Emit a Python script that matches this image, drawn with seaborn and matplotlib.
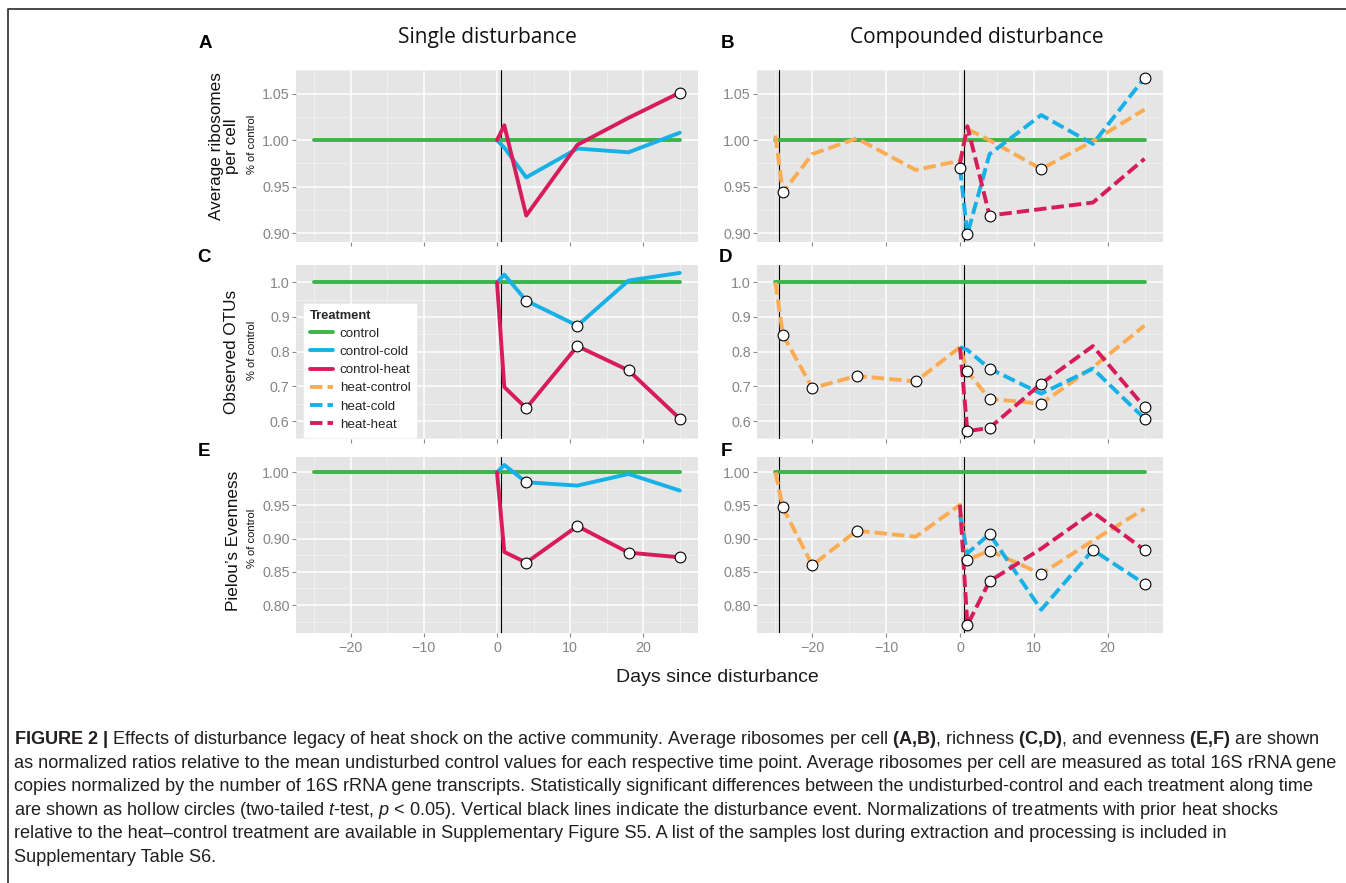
import pandas as pd
import seaborn as sns
import matplotlib.pyplot as plt
from matplotlib.lines import Line2D
from matplotlib.ticker import MultipleLocator, FormatStrFormatter

# sampling days
days_all = [-25, -24, -20, -14, -6, 0, 1, 4, 11, 18, 25]
days_post = [0, 1, 4, 11, 18, 25]

# undisturbed control (normalized to itself)
control = [1.0, 1.0, 1.0, 1.0, 1.0, 1.0, 1.0, 1.0, 1.0, 1.0, 1.0]

# average ribosomes per cell (A, B)
ribo_control_cold = [1.0, 0.992, 0.960, 0.991, 0.987, 1.008]
ribo_control_heat = [1.0, 1.016, 0.919, 0.995, 1.024, 1.051]
ribo_heat_control = [1.005, 0.944, 0.985, 1.002, 0.968, 0.978, 1.012, 1.0, 0.969, 0.999, 1.033]
ribo_heat_cold = [0.970, 0.899, 0.985, 1.027, 0.996, 1.067]
ribo_heat_heat = [0.975, 1.015, 0.919, 0.926, 0.933, 0.980]

# observed OTUs (C, D)
otu_control_cold = [1.0, 1.022, 0.947, 0.875, 1.005, 1.027]
otu_control_heat = [1.0, 0.698, 0.637, 0.816, 0.746, 0.607]
otu_heat_control = [1.0, 0.849, 0.695, 0.730, 0.714, 0.813, 0.743, 0.664, 0.650, 0.755, 0.875]
otu_heat_cold = [0.813, 0.805, 0.751, 0.679, 0.751, 0.607]
otu_heat_heat = [0.813, 0.571, 0.580, 0.708, 0.816, 0.640]

# Pielou's evenness (E, F)
even_control_cold = [1.0, 1.011, 0.985, 0.980, 0.9975, 0.9725]
even_control_heat = [1.0, 0.880, 0.864, 0.919, 0.879, 0.872]
even_heat_control = [1.0, 0.947, 0.860, 0.912, 0.903, 0.951, 0.868, 0.882, 0.847, 0.897, 0.945]
even_heat_cold = [0.935, 0.878, 0.907, 0.793, 0.883, 0.832]
even_heat_heat = [0.951, 0.770, 0.836, 0.885, 0.940, 0.883]

# significant differences vs control (hollow circles)
no_sig_all = [0, 0, 0, 0, 0, 0, 0, 0, 0, 0, 0]
ribo_control_cold_sig = [0, 0, 0, 0, 0, 0]
ribo_control_heat_sig = [0, 0, 0, 0, 0, 1]
ribo_heat_control_sig = [0, 1, 0, 0, 0, 0, 0, 0, 1, 0, 0]
ribo_heat_cold_sig = [1, 1, 0, 0, 0, 1]
ribo_heat_heat_sig = [0, 0, 1, 0, 0, 0]
otu_control_cold_sig = [0, 0, 1, 1, 0, 0]
otu_control_heat_sig = [0, 0, 1, 1, 1, 1]
otu_heat_control_sig = [0, 1, 1, 1, 1, 0, 1, 1, 1, 0, 0]
otu_heat_cold_sig = [0, 0, 1, 0, 0, 1]
otu_heat_heat_sig = [0, 1, 1, 1, 0, 1]
even_control_cold_sig = [0, 0, 1, 0, 0, 0]
even_control_heat_sig = [0, 0, 1, 1, 1, 1]
even_heat_control_sig = [0, 1, 1, 1, 0, 0, 1, 1, 1, 0, 0]
even_heat_cold_sig = [0, 0, 1, 0, 1, 1]
even_heat_heat_sig = [0, 1, 1, 0, 0, 1]

treatments = ["control", "control-cold", "control-heat", "heat-control", "heat-cold", "heat-heat"]
palette = {"control": "#3db449", "control-cold": "#17b1e8", "control-heat": "#d81c5b",
           "heat-control": "#fbac52", "heat-cold": "#17b1e8", "heat-heat": "#d81c5b"}
dash_map = {"control": "", "control-cold": "", "control-heat": "",
            "heat-control": (3.2, 1.3), "heat-cold": (3.2, 1.3), "heat-heat": (3.2, 1.3)}

caption_lines = [
    r"$\mathbf{FIGURE\ 2\ |}$ Effects of disturbance legacy of heat shock on the active community. Average ribosomes per cell $\mathbf{(A{,}B)}$, richness $\mathbf{(C{,}D)}$, and evenness $\mathbf{(E{,}F)}$ are shown",
    "as normalized ratios relative to the mean undisturbed control values for each respective time point. Average ribosomes per cell are measured as total 16S rRNA gene",
    "copies normalized by the number of 16S rRNA gene transcripts. Statistically significant differences between the undisturbed-control and each treatment along time",
    r"are shown as hollow circles (two-tailed $\mathit{t}$-test, $\mathit{p}$ < 0.05). Vertical black lines indicate the disturbance event. Normalizations of treatments with prior heat shocks",
    "relative to the heat\u2013control treatment are available in Supplementary Figure S5. A list of the samples lost during extraction and processing is included in",
    "Supplementary Table S6.",
]


def long_frame(series):
    rows = []
    for name, days, values, sig in series:
        for d, v, s in zip(days, values, sig):
            rows.append((d, v, name, s))
    return pd.DataFrame(rows, columns=["day", "value", "treatment", "sig"])


panels = [
    ("A", long_frame([("control", days_all, control, no_sig_all),
                      ("control-cold", days_post, ribo_control_cold, ribo_control_cold_sig),
                      ("control-heat", days_post, ribo_control_heat, ribo_control_heat_sig)])),
    ("B", long_frame([("control", days_all, control, no_sig_all),
                      ("heat-control", days_all, ribo_heat_control, ribo_heat_control_sig),
                      ("heat-cold", days_post, ribo_heat_cold, ribo_heat_cold_sig),
                      ("heat-heat", days_post, ribo_heat_heat, ribo_heat_heat_sig)])),
    ("C", long_frame([("control", days_all, control, no_sig_all),
                      ("control-cold", days_post, otu_control_cold, otu_control_cold_sig),
                      ("control-heat", days_post, otu_control_heat, otu_control_heat_sig)])),
    ("D", long_frame([("control", days_all, control, no_sig_all),
                      ("heat-control", days_all, otu_heat_control, otu_heat_control_sig),
                      ("heat-cold", days_post, otu_heat_cold, otu_heat_cold_sig),
                      ("heat-heat", days_post, otu_heat_heat, otu_heat_heat_sig)])),
    ("E", long_frame([("control", days_all, control, no_sig_all),
                      ("control-cold", days_post, even_control_cold, even_control_cold_sig),
                      ("control-heat", days_post, even_control_heat, even_control_heat_sig)])),
    ("F", long_frame([("control", days_all, control, no_sig_all),
                      ("heat-control", days_all, even_heat_control, even_heat_control_sig),
                      ("heat-cold", days_post, even_heat_cold, even_heat_cold_sig),
                      ("heat-heat", days_post, even_heat_heat, even_heat_heat_sig)])),
]

sns.set_theme(style="darkgrid", rc={"axes.facecolor": "#e5e5e5"})
plt.rcParams["font.family"] = ["Liberation Sans", "DejaVu Sans"]
plt.rcParams["mathtext.fontset"] = "custom"
plt.rcParams["mathtext.rm"] = "Liberation Sans"
plt.rcParams["mathtext.bf"] = "Liberation Sans:bold"
plt.rcParams["mathtext.it"] = "Liberation Sans:italic"

W, H = 1346, 883
fig = plt.figure(figsize=(W / 100, H / 100), dpi=100)


def px_axes(l, t, r, b):
    return fig.add_axes([l / W, 1 - b / H, (r - l) / W, (b - t) / H])


cols = [(296, 698), (757, 1163)]
rows_px = [(70, 242), (265, 439), (457, 633)]
row_ticks = [(0.05, "%.2f"), (0.1, "%.1f"), (0.05, "%.2f")]

axes = {}
for i, (letter, df) in enumerate(panels):
    r, c = divmod(i, 2)
    l, rr = cols[c]
    t, b = rows_px[r]
    ax = px_axes(l, t, rr, b)
    if c == 1:
        ax.sharey(axes[panels[i - 1][0]])
    axes[letter] = ax
    order = [tr for tr in treatments if tr in set(df["treatment"])]
    sns.lineplot(data=df, x="day", y="value", hue="treatment", style="treatment",
                 hue_order=order, style_order=order, palette=palette, dashes=dash_map,
                 linewidth=2.8, errorbar=None, legend=False, ax=ax, zorder=3)
    sig = df[df["sig"] == 1]
    sns.scatterplot(data=sig, x="day", y="value", color="white", edgecolor="black",
                    linewidth=0.8, s=60, legend=False, ax=ax, zorder=5)
    disturb = [0.5] if c == 0 else [-24.5, 0.5]
    for xv in disturb:
        ax.axvline(xv, color="black", lw=0.8, zorder=2.5)
    step, fmt = row_ticks[r]
    ax.yaxis.set_major_locator(MultipleLocator(step))
    ax.yaxis.set_minor_locator(MultipleLocator(step / 2))
    ax.yaxis.set_major_formatter(FormatStrFormatter(fmt))
    ax.xaxis.set_major_locator(MultipleLocator(10))
    ax.xaxis.set_minor_locator(MultipleLocator(5))
    ax.grid(which="major", color="white", lw=1.1)
    ax.grid(which="minor", color="#f2f2f2", lw=0.6)
    ax.tick_params(which="major", left=True, bottom=True, length=3, width=0.8,
                   color="#8a8a8a", labelcolor="#858585", labelsize=10.3, pad=1.5)
    ax.tick_params(which="minor", length=0)
    ax.tick_params(axis="x", labelbottom=(r == 2), pad=3)
    for s in ax.spines.values():
        s.set_visible(False)
    ax.set_xlabel("")
    ax.set_ylabel("")

# panel letters
letter_pos = {"A": (205, 43), "B": (728, 43), "C": (204, 258), "D": (726, 258), "E": (204, 451), "F": (726, 451)}
for k, (x, y) in letter_pos.items():
    fig.text(x / W, 1 - y / H, k, fontsize=13.5, fontweight="bold", ha="center", va="center", color="black")

# column titles
fig.text(487 / W, 1 - 38 / H, "Single disturbance", fontsize=15, ha="center", va="center",
         family=["Open Sans", "DejaVu Sans"], color="#111111")
fig.text(977 / W, 1 - 38 / H, "Compounded disturbance", fontsize=15, ha="center", va="center",
         family=["Open Sans", "DejaVu Sans"], color="#111111")

# y labels
fig.text(224 / W, 1 - 146 / H, "Average ribosomes\nper cell", rotation=90, fontsize=12.3,
         ha="center", va="center", linespacing=1.05, color="#111111")
fig.text(232 / W, 1 - 352 / H, "Observed OTUs", rotation=90, fontsize=12.3, ha="center", va="center", color="#111111")
fig.text(234 / W, 1 - 541 / H, "Pielou\u2019s Evenness", rotation=90, fontsize=12.3, ha="center", va="center", color="#111111")
for y in (144, 350, 538):
    fig.text(252 / W, 1 - y / H, "% of control", rotation=90, fontsize=8, ha="center", va="center", color="#111111")

fig.text(717 / W, 1 - 677 / H, "Days since disturbance", fontsize=14, ha="center", va="center", color="#1a1a1a")

# legend
handles = [Line2D([], [], color=palette[t], lw=2.8,
                  linestyle=("-" if dash_map[t] == "" else (0, dash_map[t]))) for t in treatments]
leg = fig.legend(handles, treatments, title="Treatment", loc="upper left",
                 bbox_to_anchor=(297 / W, 1 - 297 / H), frameon=True, facecolor="white",
                 edgecolor="white", fancybox=False, framealpha=1, fontsize=9.6,
                 title_fontproperties={"weight": "bold", "size": 9.3}, handlelength=1.75,
                 handletextpad=0.5, labelspacing=0.44, borderpad=0.45, alignment="left")

# caption
for i, line in enumerate(caption_lines):
    fig.text(14 / W, 1 - (740 + 23.4 * i) / H, line, fontsize=13.05, ha="left", va="center", color="#231f20")

# figure frame
fig.add_artist(Line2D([8 / W, 8 / W, 1], [0, 1 - 8.5 / H, 1 - 8.5 / H], color="#3a3a3a", lw=1.3))

fig.savefig("out.png", dpi=100, facecolor="white")
